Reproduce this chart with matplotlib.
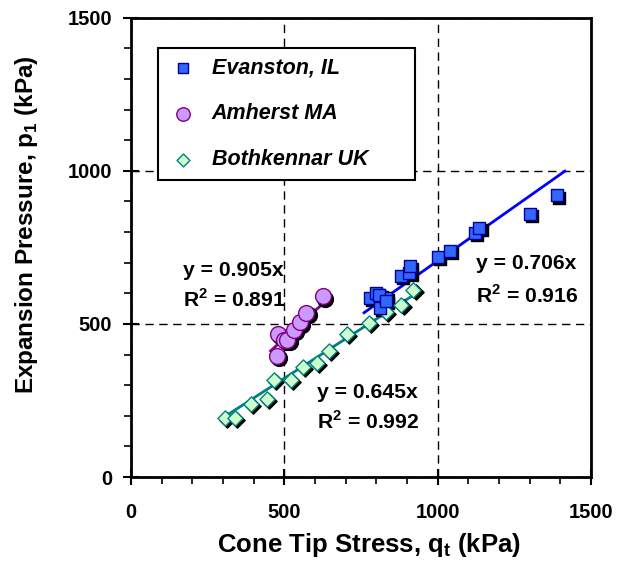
import matplotlib
matplotlib.use("Agg")
import matplotlib.pyplot as plt
from matplotlib.transforms import offset_copy
from matplotlib.ticker import MultipleLocator
import numpy as np

plt.rcParams['font.family'] = ['Liberation Sans', 'DejaVu Sans']
plt.rcParams['font.weight'] = 'bold'
plt.rcParams['mathtext.fontset'] = 'custom'
plt.rcParams['mathtext.rm'] = 'Liberation Sans:bold'
plt.rcParams['mathtext.bf'] = 'Liberation Sans:bold'

# data
evan_x = [780, 800, 812, 830, 810, 830, 880, 908, 910, 1000, 1040, 1122, 1136, 1300, 1390]
evan_y = [585, 600, 553, 585, 595, 575, 656, 667, 688, 718, 738, 797, 813, 860, 920]

amh_x = [475, 478, 500, 510, 530, 550, 572, 625]
amh_y = [395, 468, 447, 447, 480, 505, 536, 590]

both_x = [305, 340, 390, 442, 465, 522, 560, 605, 645, 705, 775, 830, 882, 921]
both_y = [192, 194, 238, 256, 316, 316, 360, 373, 413, 468, 504, 540, 562, 611]

# fitted slopes and their ranges
evan_fit = (0.706, 760, 1415)
amh_fit = (0.905, 455, 652)
both_fit = (0.645, 300, 935)

fig = plt.figure(figsize=(6.31, 5.77), dpi=100)
ax = fig.add_axes([0.2076, 0.1733, 0.729, 0.796])

shadow = offset_copy(ax.transData, fig=fig, x=2.2, y=-2.2, units='dots')

# fit lines
for (k, a, b), c in [(evan_fit, '#0000FF'), (amh_fit, '#800080'), (both_fit, '#008080')]:
    xs = np.array([a, b])
    ax.plot(xs, k * xs, color=c, lw=2, zorder=2)

# shadows first, then markers
ax.scatter(both_x, both_y, s=60, marker='D', color='black', transform=shadow, zorder=3)
ax.scatter(amh_x, amh_y, s=130, marker='o', color='black', transform=shadow, zorder=3)
ax.scatter(evan_x, evan_y, s=75, marker='s', color='black', transform=shadow, zorder=3)

ax.scatter(both_x, both_y, s=60, marker='D', facecolor='#CCFFCC', edgecolor='#008080',
           linewidth=1, zorder=4, label='Bothkennar UK')
ax.scatter(amh_x, amh_y, s=130, marker='o', facecolor='#CC99FF', edgecolor='#800080',
           linewidth=1, zorder=4, label='Amherst MA')
ax.scatter(evan_x, evan_y, s=75, marker='s', facecolor='#3366FF', edgecolor='#000099',
           linewidth=1, zorder=4, label='Evanston, IL')

# fit annotations
fs = 15.2
ax.text(170, 673, 'y = 0.905x', fontsize=fs, va='center')
ax.text(170, 579, r'R$^{2}$ = 0.891', fontsize=fs, va='center')
ax.text(1126, 698, 'y = 0.706x', fontsize=fs, va='center')
ax.text(1126, 594, r'R$^{2}$ = 0.916', fontsize=fs, va='center')
ax.text(608, 276, 'y = 0.645x', fontsize=fs, va='center')
ax.text(608, 180, r'R$^{2}$ = 0.992', fontsize=fs, va='center')

ax.set_xlim(0, 1500)
ax.set_ylim(0, 1500)
ax.xaxis.set_major_locator(MultipleLocator(500))
ax.yaxis.set_major_locator(MultipleLocator(500))
ax.xaxis.set_minor_locator(MultipleLocator(100))
ax.yaxis.set_minor_locator(MultipleLocator(100))
ax.tick_params(which='major', direction='inout', length=11, width=1.5, labelsize=14.5)
ax.tick_params(axis='x', which='major', pad=13)
ax.tick_params(axis='y', which='major', pad=8)
ax.tick_params(which='minor', direction='out', length=5, width=1.2)
for sp in ax.spines.values():
    sp.set_linewidth(2)
ax.grid(True, which='major', color='black', linestyle=(0, (6, 4)), linewidth=1)

ax.set_xlabel(r'Cone Tip Stress, q$_{\mathrm{t}}$ (kPa)', fontsize=18.5, fontweight='bold')
ax.set_ylabel(r'Expansion Pressure, p$_{\mathrm{1}}$ (kPa)', fontsize=17.5, fontweight='bold')
ax.xaxis.set_label_coords(0.517, -0.118)
ax.yaxis.set_label_coords(-0.198, 0.549)

handles, labels = ax.get_legend_handles_labels()
leg = ax.legend(handles[::-1], labels[::-1], loc='upper left',
                bbox_to_anchor=(0.0587, 0.638, 0.559, 0.296), mode='expand',
                fancybox=False, edgecolor='black', framealpha=1, labelspacing=1.15,
                borderpad=0.45, handlelength=1.4, handletextpad=0.65, borderaxespad=0,
                markerscale=0.85,
                prop={'size': 15.5, 'weight': 'bold', 'style': 'italic'})
leg.get_frame().set_linewidth(1.5)
leg.set_zorder(5)

fig.savefig('out.png', dpi=100)
